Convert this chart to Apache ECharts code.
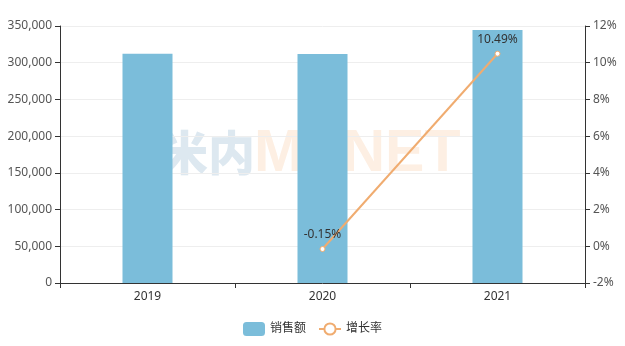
<!DOCTYPE html>
<html>
<head>
<meta charset="utf-8">
<script src="https://cdn.jsdelivr.net/npm/echarts@6/dist/echarts.min.js"></script>
<style>
    html, body { margin: 0; padding: 0; background: #fff; }
    #main { width: 625px; height: 346px; }
</style>
</head>
<body>
<div id="main"></div>
<script>
    var years = ['2019', '2020', '2021'];
    var sales = [312300, 311830, 344540];
    var growth = [null, -0.15, 10.49];

    var chart = echarts.init(document.getElementById('main'));
    chart.setOption({
        animation: false,
        textStyle: { fontFamily: '"Noto Sans", "Noto Sans CJK SC", sans-serif' },
        graphic: [
            {
                type: 'text', left: 161, top: 129, z: -10, silent: true,
                style: { text: '米内', fontSize: 47, fontWeight: 900, fill: '#dde8f0',
                    fontFamily: '"Noto Sans CJK SC", sans-serif' }
            },
            {
                type: 'text', left: 254, top: 125, z: -10, silent: true,
                style: { text: 'MENET', fontSize: 59, fontWeight: 'bold', fill: '#fdefe3',
                    fontFamily: '"Liberation Sans", Arial, sans-serif' }
            }
        ],
        grid: { left: 60, right: 40, top: 26, bottom: 63 },
        legend: {
            bottom: 5,
            itemWidth: 22,
            itemHeight: 14,
            itemGap: 12,
            textStyle: { color: '#333', fontSize: 12 },
            data: ['销售额', '增长率']
        },
        xAxis: {
            type: 'category',
            data: years,
            axisLine: { lineStyle: { color: '#333' } },
            axisTick: { show: true },
            axisLabel: { color: '#333', fontSize: 12, margin: 8 }
        },
        yAxis: [
            {
                type: 'value', min: 0, max: 350000, interval: 50000,
                axisLine: { show: true, lineStyle: { color: '#333' } },
                axisTick: { show: true },
                axisLabel: { color: '#555', fontSize: 12,
                    formatter: function (v) { return v.toLocaleString('en-US'); } },
                splitLine: { lineStyle: { color: '#eee' } }
            },
            {
                type: 'value', min: -2, max: 12, interval: 2,
                axisLine: { show: true, lineStyle: { color: '#333' } },
                axisTick: { show: true },
                axisLabel: { color: '#555', fontSize: 12, formatter: '{value}%' },
                splitLine: { show: false }
            }
        ],
        series: [
            {
                name: '销售额',
                type: 'bar',
                data: sales,
                barWidth: 50,
                itemStyle: { color: '#7bbdda' }
            },
            {
                name: '增长率',
                type: 'line',
                yAxisIndex: 1,
                data: growth,
                symbol: 'circle',
                symbolSize: 5,
                itemStyle: { color: '#fff', borderColor: '#f0ac70', borderWidth: 1 },
                lineStyle: { color: '#f0ac70', width: 2 },
                label: { show: true, position: 'top', color: '#333', fontSize: 12,
                    formatter: function (p) { return p.value + '%'; } }
            }
        ]
    });
</script>
</body>
</html>
